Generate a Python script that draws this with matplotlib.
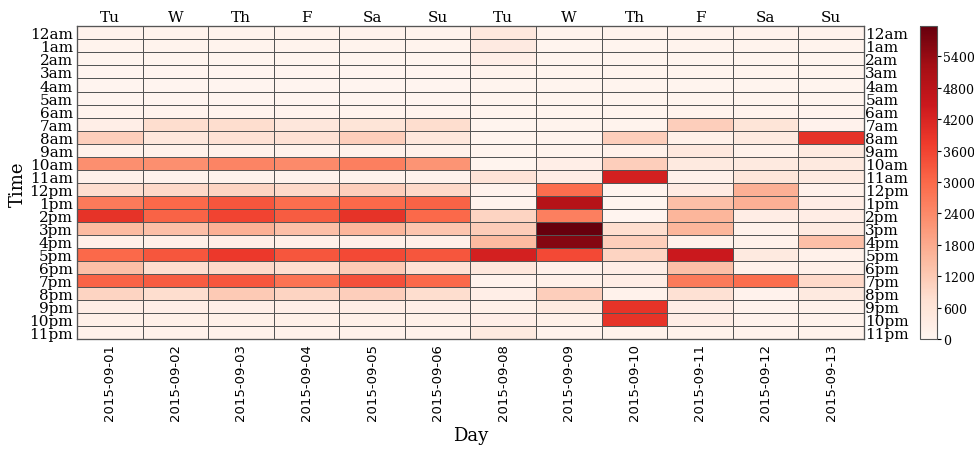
import numpy as np
import matplotlib
matplotlib.use('Agg')
import matplotlib.pyplot as plt

hours = ['12am', '1am', '2am', '3am', '4am', '5am', '6am', '7am', '8am', '9am', '10am', '11am',
         '12pm', '1pm', '2pm', '3pm', '4pm', '5pm', '6pm', '7pm', '8pm', '9pm', '10pm', '11pm']
dates = ['2015-09-01', '2015-09-02', '2015-09-03', '2015-09-04', '2015-09-05', '2015-09-06',
         '2015-09-08', '2015-09-09', '2015-09-10', '2015-09-11', '2015-09-12', '2015-09-13']
weekdays = ['Tu', 'W', 'Th', 'F', 'Sa', 'Su', 'Tu', 'W', 'Th', 'F', 'Sa', 'Su']

# counts per hour (rows) for each day (columns)
d0901 = [100, 80, 60, 40, 30, 40, 80, 250, 1100, 150, 2300, 150, 800, 2700, 3900, 1500, 200, 3000, 1400, 3100, 1000, 300, 200, 150]
d0902 = [90, 70, 50, 40, 30, 40, 80, 800, 500, 150, 2300, 100, 900, 3000, 3100, 1400, 200, 3300, 800, 3200, 800, 250, 200, 150]
d0903 = [90, 70, 50, 40, 30, 40, 80, 800, 700, 150, 2500, 100, 1000, 3300, 3600, 1700, 250, 3800, 900, 3300, 1200, 250, 200, 150]
d0904 = [90, 70, 50, 40, 30, 40, 80, 500, 700, 150, 2400, 100, 900, 2900, 3200, 1400, 200, 3300, 800, 2800, 1000, 250, 200, 150]
d0905 = [100, 80, 60, 40, 30, 40, 80, 600, 1100, 150, 2600, 100, 1100, 3000, 3900, 1600, 200, 3500, 1200, 3400, 1100, 300, 200, 150]
d0906 = [90, 70, 50, 40, 30, 40, 80, 800, 500, 150, 2200, 100, 900, 3100, 3000, 1300, 200, 3300, 700, 3000, 800, 250, 200, 150]
d0908 = [450, 380, 250, 80, 60, 60, 60, 60, 60, 60, 60, 650, 100, 80, 1000, 1150, 1500, 4300, 500, 100, 250, 200, 250, 400]
d0909 = [70, 60, 60, 60, 60, 60, 60, 70, 70, 80, 250, 300, 2900, 4900, 2600, 5970, 5600, 3500, 200, 200, 1100, 400, 200, 100]
d0910 = [80, 60, 60, 60, 60, 60, 60, 80, 1100, 150, 1100, 4300, 60, 60, 40, 800, 1100, 1000, 300, 300, 120, 3900, 3900, 120]
d0911 = [100, 80, 60, 60, 60, 60, 80, 1100, 200, 450, 400, 150, 350, 1400, 1600, 1600, 150, 4500, 1400, 2700, 700, 300, 300, 120]
d0912 = [100, 80, 60, 60, 60, 60, 80, 600, 400, 150, 400, 550, 1700, 1700, 300, 150, 150, 400, 150, 2900, 100, 100, 100, 100]
d0913 = [100, 80, 60, 60, 60, 60, 80, 100, 3900, 400, 400, 400, 150, 300, 300, 400, 1400, 150, 200, 900, 400, 150, 120, 120]

data = np.array([d0901, d0902, d0903, d0904, d0905, d0906,
                 d0908, d0909, d0910, d0911, d0912, d0913]).T

plt.rcParams['font.family'] = ['DejaVu Serif']

fig = plt.figure(figsize=(9.74, 4.56), dpi=100)
ax = fig.add_axes([0.079, 0.254, 0.808, 0.686])
cax = fig.add_axes([0.945, 0.254, 0.0175, 0.686])

mesh = ax.pcolormesh(data, cmap='Reds', vmin=0, vmax=data.max(),
                     edgecolors='#555555', linewidth=0.6)
ax.set_xlim(0, len(dates))
ax.set_ylim(len(hours), 0)

ax.set_yticks(np.arange(len(hours)) + 0.5)
ax.set_yticklabels(hours, fontsize=11)
ax.set_xticks(np.arange(len(dates)) + 0.5)
ax.set_xticklabels(dates, rotation=90, fontsize=9.5, family='DejaVu Sans')
ax.tick_params(length=0, pad=3)
ax.set_xlabel('Day', fontsize=13)
ax.set_ylabel('Time', fontsize=13, labelpad=2)

top = ax.twiny()
top.set_xlim(ax.get_xlim())
top.set_xticks(np.arange(len(dates)) + 0.5)
top.set_xticklabels(weekdays, fontsize=11)
top.tick_params(length=0, pad=2)

right = ax.twinx()
right.set_ylim(ax.get_ylim())
right.set_yticks(np.arange(len(hours)) + 0.5)
right.set_yticklabels(hours, fontsize=11)
right.tick_params(length=0, pad=1)

for a in (ax, top, right):
    for s in a.spines.values():
        s.set_color('#555555')

cb = fig.colorbar(mesh, cax=cax, ticks=np.arange(0, 5401, 600))
cb.ax.tick_params(labelsize=9, length=3, pad=1)
cb.outline.set_edgecolor('#555555')

fig.savefig('out.png', dpi=100)
